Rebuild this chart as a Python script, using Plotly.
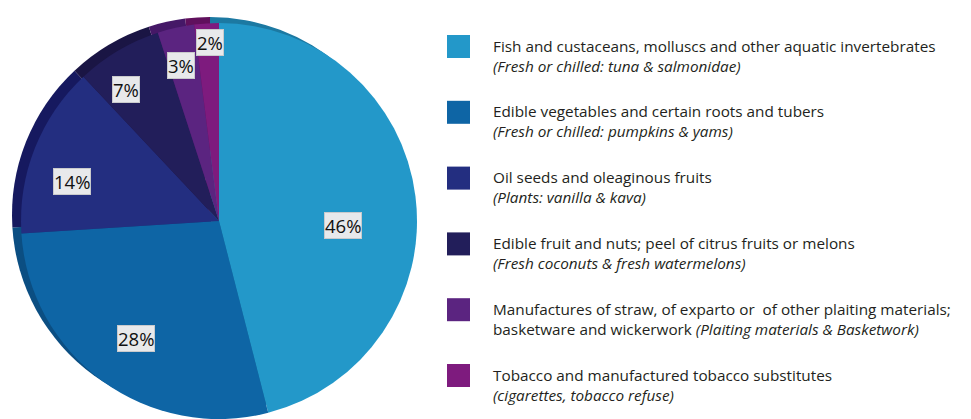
import math
import plotly.graph_objects as go

# ---- data ----
categories = [
    "Fish and custaceans, molluscs and other aquatic invertebrates",
    "Edible vegetables and certain roots and tubers",
    "Oil seeds and oleaginous fruits",
    "Edible fruit and nuts; peel of citrus fruits or melons",
    "Manufactures of straw, of exparto or&nbsp; of other plaiting materials;<br>basketware and wickerwork",
    "Tobacco and manufactured tobacco substitutes",
]
subtitles = [
    "(Fresh or chilled: tuna & salmonidae)",
    "(Fresh or chilled: pumpkins & yams)",
    "(Plants: vanilla & kava)",
    "(Fresh coconuts & fresh watermelons)",
    "(Plaiting materials & Basketwork)",
    "(cigarettes, tobacco refuse)",
]
values = [46, 28, 14, 7, 3, 2]
sub_inline = [False, False, False, False, True, False]

# ---- styles ----
face_colors = ["#2398C9", "#0E65A5", "#232E80", "#221E5A", "#5B2480", "#7E1B7E"]
rim_colors = ["#1C79A2", "#0B4E82", "#16195F", "#1A1544", "#451867", "#60105D"]
label_r = [124, 144, 152, 161, 160, 179]          # px from centre
label_dtheta = [9.2, -1.0, -6.6, -4.6, -1.2, 0.6]  # degrees nudge

W, H = 971, 419
R = 198
cx, cy = 219, 221            # pixel centre (y from top) of front face
rim_dx, rim_dy = -9, -6      # offset of the side wall


def dom(cxp, cyp, r):
    return dict(x=[(cxp - r) / W, (cxp + r) / W],
                y=[(H - cyp - r) / H, (H - cyp + r) / H])


fig = go.Figure()
common = dict(values=values, labels=[c.split("<br>")[0] for c in categories],
              sort=False, direction="clockwise", rotation=0,
              textinfo="none", hoverinfo="label+percent", showlegend=False)
fig.add_trace(go.Pie(domain=dom(cx + rim_dx, cy + rim_dy, R),
                     marker=dict(colors=rim_colors, line=dict(width=0)), **common))
fig.add_trace(go.Pie(domain=dom(cx, cy, R),
                     marker=dict(colors=face_colors, line=dict(width=0)), **common))

annotations = []
shapes = []
total = sum(values)
cum = 0
for i, v in enumerate(values):
    mid = (cum + v / 2) / total * 360 + label_dtheta[i]
    cum += v
    a = math.radians(mid)
    px = cx + label_r[i] * math.sin(a)
    py = cy - label_r[i] * math.cos(a)
    annotations.append(dict(
        x=px / W, y=(H - py) / H, xref="paper", yref="paper",
        text=f"{round(v / total * 100)}%", showarrow=False,
        font=dict(family="Open Sans", size=18.5, color="#111111"),
        bgcolor="#E8E9EB", bordercolor="#C9CACC", borderwidth=1, borderpad=0,
        xanchor="center", yanchor="middle"))

# legend
key_x0, key_size = 447, 23
top0, step = 35, 65.8
text_x = 491
for i in range(len(values)):
    t = top0 + i * step
    shapes.append(dict(type="rect", xref="paper", yref="paper",
                       x0=key_x0 / W, x1=(key_x0 + key_size) / W,
                       y0=(H - t - key_size) / H, y1=(H - t) / H,
                       fillcolor=face_colors[i], line=dict(width=0)))
    if sub_inline[i]:
        txt = f"{categories[i]} <i>{subtitles[i]}</i>"
    else:
        txt = f"{categories[i]}<br><i>{subtitles[i]}</i>"
    annotations.append(dict(
        x=text_x / W, y=(H - t + 1.5) / H, xref="paper", yref="paper",
        text=txt, showarrow=False, align="left",
        xanchor="left", yanchor="top",
        font=dict(family="Open Sans", size=15.3, color="#231F20")))

fig.update_layout(width=W, height=H, margin=dict(l=0, r=0, t=0, b=0),
                  paper_bgcolor="white", plot_bgcolor="white",
                  annotations=annotations, shapes=shapes)
fig.write_html("out.html")
